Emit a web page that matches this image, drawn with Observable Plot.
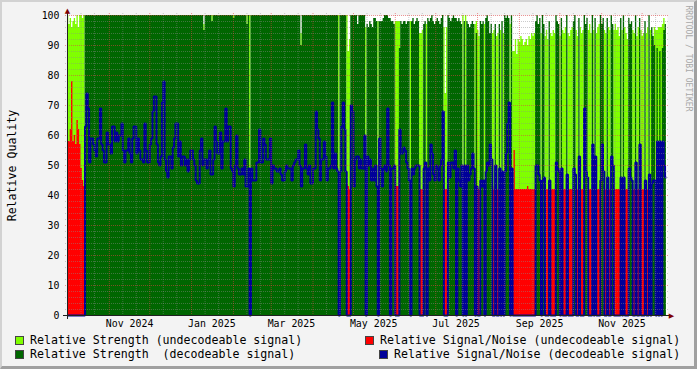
<!DOCTYPE html>
<html><head><meta charset="utf-8">
<script src="https://cdn.jsdelivr.net/npm/d3@7"></script>
<script src="https://cdn.jsdelivr.net/npm/@observablehq/plot@0.6"></script>
<style>
html,body{margin:0;padding:0;background:#f3f3f3;}
#wrap{position:relative;width:697px;height:369px;background:#f3f3f3;overflow:hidden;font-family:"DejaVu Sans Mono",monospace;}
#chart{position:absolute;left:0;top:0;}
#frame{position:absolute;left:0;top:0;width:697px;height:369px;box-sizing:border-box;border-top:2px solid #d2d2d2;border-left:2px solid #d2d2d2;border-right:3px solid #a0a0a0;border-bottom:3px solid #a0a0a0;pointer-events:none;}
.leg{position:absolute;font-size:11.6px;line-height:13.5px;white-space:pre;color:#000;}
.sw{position:absolute;width:7px;height:7px;border:1px solid #444;}
</style></head><body>
<div id="wrap">
  <div id="chart"></div>
  <div id="legend"></div>
  <div id="frame"></div>
</div>
<script>
// ---- data: one entry per day starting 2024-10-01 ----
// U = undecodeable signal, D = decodeable signal, Z = decodeable strength without S/N
const dayKind = [
 "UUUUUUUUUU","UUUDDDDDDD","DDDDDDDDDD","DDDDDDDDDD","DDDDDDDDDD","DDDDDDDDDD","DDDDDDDDDD",
 "DDDDDDDDDD","DDDDDDDDDD","DDDDDDDDDD","DDDDDDDDDD","DDDDDDDDDD","DDDDDDDDDD","DDDDDUDDDD",
 "DDDDDDDDDD","DDDDDDDDDD","DDDDDDDDDD","DDDDDDDDDD","DDDDDDDDDD","DDDDDDDDDD","DUDDDDDUUU",
 "DDDDDDDDDD","DUDDDDDDDD","UDDDDDDDDZ","DDDUUUDDDD","DDDDUDDDDD","DUUUDDUDDD","DDDDDDDDDU",
 "UUDDDDDDZD","DDDUDUDDDD","DDUDUUDDDU","DDDDDUUDUU","DUDUDDDDUD","UUUUUUUUUU","UUUUUUUDDD",
 "DUDDUUUDUU","UUDDDUDUUU","DUUUUDDUUD","UUUDDDUUUD","UDUUUDDDUU","DUUDDUUUUU","DUDUUUDDDU",
 "UDUUDUUUDU","UDUDDDUDUD","UDDD"
].join("");

// relative strength (light green on U days, dark green on D/Z days)
const strength = [
 100,97,99,96,98,99,97,100,96,100, 100,99,100,100,100,100,100,100,100,100,
 100,100,100,100,100,100,100,100,100,100, 100,100,100,100,100,100,100,100,100,100,
 100,100,100,100,100,100,100,100,100,100, 100,100,100,100,100,100,100,100,100,100,
 100,100,100,100,100,100,100,100,100,100, 100,100,100,100,100,100,100,100,100,100,
 100,100,100,100,100,100,100,100,100,100, 100,100,100,100,100,100,100,100,100,100,
 100,95,100,100,100,100,100,98,100,100, 100,100,100,100,100,100,100,100,100,100,
 100,100,100,99,100,100,100,100,100,100, 100,100,100,97,100,100,100,100,100,100,
 100,100,100,100,100,100,100,100,100,100, 100,100,100,100,100,100,100,100,100,100,
 100,100,100,100,100,100,100,100,100,100, 100,100,100,90,100,100,100,100,100,100,
 100,100,100,100,100,100,100,100,100,100, 100,100,100,100,100,100,100,100,100,100,
 100,100,100,100,100,100,100,100,88,92, 100,100,100,100,100,97,100,100,100,100,
 100,96,97,96,98,97,96,99,99,98, 98,98,98,98,99,100,100,100,99,99,
 98,98,97,98,98,98,89,98,97,98, 98,97,98,98,98,98,99,97,98,99,
 98,94,94,95,97,98,97,99,98,99, 100,98,97,98,99,98,97,99,100,96,
 74,96,100,99,98,99,100,99,99,98, 99,98,97,100,98,100,98,97,96,97,
 98,97,97,94,95,93,98,97,98,97, 99,100,98,94,97,94,95,97,93,94,
 97,95,98,94,100,99,100,99,97,100, 88,88,92,87,92,91,93,92,90,91,
 92,90,93,92,94,93,94,98,100,97, 99,94,100,97,93,95,92,98,94,93,
 95,94,100,98,97,93,99,95,94,96, 100,94,93,95,96,98,100,95,93,99,
 96,94,95,100,97,99,95,97,94,100, 95,99,94,96,97,100,97,99,95,94,
 99,96,95,100,97,95,97,95,96,93, 99,95,100,96,94,92,99,97,98,95,
 94,100,93,96,99,95,93,94,98,94, 96,100,95,96,93,90,95,89,96,88,
 96,89,95,97
];

// relative signal/noise (red on U days, blue on D days)
const signalNoise = [
 58,58,62,78,58,60,57,65,62,57, 49,45,43,63,74,69,51,59,59,57,
 55,53,59,59,69,57,55,51,51,61, 57,57,54,63,63,58,61,58,60,60,
 64,55,51,55,55,59,54,51,59,63, 63,54,59,55,52,52,51,64,55,51,
 51,57,59,68,73,73,57,51,50,53, 71,78,52,48,46,53,53,49,56,59,
 64,64,53,58,50,53,53,50,52,48, 52,55,55,52,50,45,44,44,55,59,
 50,52,52,49,52,55,47,47,52,63, 58,54,54,61,49,58,58,69,58,63,
 63,49,48,43,50,60,49,47,47,49, 47,52,43,43,49,44,49,45,45,45,
 51,51,62,51,51,59,57,52,52,52, 59,44,50,49,49,48,48,49,47,45,
 45,48,50,49,49,49,45,50,51,52, 52,55,50,43,49,49,57,49,47,50,
 44,44,49,49,68,62,59,45,52,52, 58,53,45,49,49,50,71,49,54,49,
 48,42,48,63,71,62,48,44,43,42, 70,68,43,52,53,53,49,52,49,49,
 60,43,53,50,52,45,49,45,50,43, 42,59,49,43,49,50,48,69,50,0,
 49,49,50,43,43,43,62,54,54,56, 55,51,49,45,42,49,47,49,50,50,
 50,42,42,42,49,51,42,49,45,57, 54,47,45,50,49,45,50,52,68,42,
 42,42,51,46,51,51,49,55,0,49, 45,43,50,42,50,42,50,45,47,49,
 54,49,42,43,42,42,45,43,45,42, 48,51,50,57,52,43,42,50,42,42,
 49,42,48,42,48,54,64,71,42,49, 42,55,42,42,42,42,42,42,42,42,
 42,43,42,42,42,42,42,50,50,47, 45,42,45,46,42,42,42,45,42,42,
 42,42,51,49,48,42,49,42,42,42, 47,42,42,42,42,49,47,42,42,53,
 42,42,42,69,48,46,42,42,42,57, 42,53,42,42,42,45,57,48,42,42,
 46,42,42,53,50,42,42,42,42,42, 46,42,46,42,42,42,49,46,45,42,
 42,51,42,42,57,42,42,42,45,42, 42,47,42,44,45,45,42,58,42,58,
 42,58,50,46
];

// days where undecodeable strength peeks above decodeable strength
const overlapDays   = [101,107,123,133,173,246,303,435,437,439,441,442];
const overlapValues = [ 97,100,100,100, 94, 98, 98, 96, 95, 96, 97, 99];

const yTicks = [0,10,20,30,40,50,60,70,80,90,100];
const xLabels = ["Nov 2024","Jan 2025","Mar 2025","May 2025","Jul 2025","Sep 2025","Nov 2025"];
const xLabelDates = ["2024-11-16","2025-01-16","2025-03-16","2025-05-16","2025-07-16","2025-09-16","2025-11-16"];

const legendLabels = [
 "Relative Strength (undecodeable signal)",
 "Relative Signal/Noise (undecodeable signal)",
 "Relative Strength  (decodeable signal)",
 "Relative Signal/Noise (decodeable signal)"
];
const legendColors = ["#80ff00","#ff0000","#006600","#000099"];

// ---- build table ----
if (dayKind.length !== strength.length || strength.length !== signalNoise.length)
  throw new Error("length mismatch " + dayKind.length + " " + strength.length + " " + signalNoise.length);

const startDay = new Date(Date.UTC(2024, 9, 1));
const endDay = new Date(+startDay + 444.8 * 864e5);
const overlap = new Map(overlapDays.map((d, i) => [d, overlapValues[i]]));
const rows = Array.from(dayKind, (k, i) => ({
  date: d3.utcDay.offset(startDay, i),
  lg: k === "U" ? strength[i] : (overlap.get(i) ?? 0),
  dg: k === "U" ? 0 : strength[i],
  red: k === "U" ? signalNoise[i] : 0,
  blue: k === "D" ? signalNoise[i] : 0
}));
rows.push({...rows[rows.length - 1], date: d3.utcDay.offset(startDay, dayKind.length)});

const monthStarts = d3.utcMonth.range(new Date(Date.UTC(2024, 10, 1)), new Date(Date.UTC(2025, 11, 2)));
const minorDays = d3.utcMonth.range(new Date(Date.UTC(2024, 9, 1)), new Date(Date.UTC(2025, 11, 2)))
  .flatMap(m => [d3.utcDay.offset(m, 10), d3.utcDay.offset(m, 20)])
  .filter(d => d < endDay);
const yMinor = d3.range(2, 100, 2).filter(v => v % 10 !== 0);
const labelDates = xLabelDates.map(s => new Date(s + "T00:00:00Z"));
const labelFor = new Map(labelDates.map((d, i) => [+d, xLabels[i]]));

const gridMinor = {stroke: "#8c8c8c", strokeOpacity: 0.45, strokeDasharray: "1,1"};
const gridMajor = {stroke: "#e04040", strokeOpacity: 0.55, strokeDasharray: "1,1"};

const chart = Plot.plot({
  width: 697, height: 332,
  marginLeft: 67, marginRight: 30, marginTop: 15, marginBottom: 17,
  style: {background: "transparent", fontFamily: "DejaVu Sans Mono", fontSize: "9.9px", color: "#000", overflow: "visible"},
  x: {type: "utc", domain: [startDay, endDay]},
  y: {domain: [0, 100]},
  marks: [
    Plot.frame({fill: "white", stroke: "none"}),
    Plot.areaY(rows, {x: "date", y1: 0, y2: "lg", curve: "step-after", fill: "#80ff00"}),
    Plot.areaY(rows, {x: "date", y1: 0, y2: "dg", curve: "step-after", fill: "#006600"}),
    Plot.areaY(rows, {x: "date", y1: 0, y2: "red", curve: "step-after", fill: "#ff0000"}),
    Plot.line(rows, {x: "date", y: "blue", curve: "step-after", stroke: "#000099", strokeWidth: 2, strokeLinejoin: "miter", strokeLinecap: "butt"}),
    Plot.ruleY(yMinor, {...gridMinor, insetLeft: -2, insetRight: -2}),
    Plot.ruleX(minorDays, {...gridMinor, insetTop: -2, insetBottom: -2}),
    Plot.ruleY(yTicks.slice(1), {...gridMajor, insetLeft: -2, insetRight: -2}),
    Plot.ruleX(monthStarts, {...gridMajor, insetTop: -2, insetBottom: -2}),
    Plot.ruleY([0], {stroke: "#202020", strokeWidth: 1, insetLeft: -4, insetRight: -3}),
    Plot.ruleX([startDay], {stroke: "#202020", strokeWidth: 1, insetTop: -4, insetBottom: -4}),
    Plot.text(["\u25B2"], {text: d => d, frameAnchor: "top-left", dy: -5, fontSize: 7, fill: "#7f0000", textAnchor: "middle", lineAnchor: "middle", fontFamily: "DejaVu Sans"}),
    Plot.text(["\u25B6"], {text: d => d, frameAnchor: "bottom-right", dx: 4, fontSize: 7, fill: "#7f0000", textAnchor: "middle", lineAnchor: "middle", fontFamily: "DejaVu Sans"}),
    Plot.axisY({ticks: yTicks, tickSize: 0, tickPadding: 8, label: null, fontSize: 9.9}),
    Plot.axisX({ticks: labelDates, tickFormat: d => labelFor.get(+d), tickSize: 0, tickPadding: 4, label: null, fontSize: 9.9}),
    Plot.text(["Relative Quality"], {text: d => d, frameAnchor: "left", dx: -55, rotate: -90, fontSize: 11.6, fill: "#000", textAnchor: "middle", lineAnchor: "middle"}),
    Plot.text(["RRDTOOL / TOBI OETIKER"], {text: d => d, frameAnchor: "top-right", dx: 21, dy: -10, rotate: 90, fontSize: 8, fill: "#a8a8a8", textAnchor: "start", lineAnchor: "middle"})
  ]
});
document.getElementById("chart").appendChild(chart);

// ---- legend below the plot ----
const legendPos = [[15, 345], [365, 345], [15, 359], [379, 359]];
const legend = document.getElementById("legend");
legendLabels.forEach((lab, i) => {
  const [x, base] = legendPos[i];
  const sw = document.createElement("div");
  sw.className = "sw";
  sw.style.left = x + "px";
  sw.style.top = (base - 8.7) + "px";
  sw.style.background = legendColors[i];
  legend.appendChild(sw);
  const t = document.createElement("div");
  t.className = "leg";
  t.style.left = (x + 15) + "px";
  t.style.top = (base - 10.8) + "px";
  t.textContent = lab;
  legend.appendChild(t);
});
</script>
</body></html>
